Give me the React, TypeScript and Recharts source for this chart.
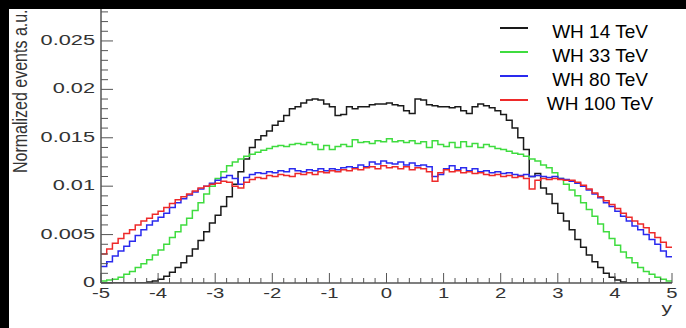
import React from 'react';
import { LineChart, Line, XAxis, YAxis, Legend, Label } from 'recharts';

// bin low edges: -5.0 ... 4.9 (width 0.1)
const binLow: number[] = Array.from({ length: 100 }, (_, i) => Math.round((-5 + i * 0.1) * 10) / 10);

const wh14 = [
  0, 0, 0, 0, 0, 0, 0, 0, 0.0001, 0.0002,
  0.0004, 0.0007, 0.0011, 0.0016, 0.0021, 0.0028, 0.0035, 0.0044, 0.0053, 0.0062,
  0.0070, 0.0079, 0.0089, 0.0102, 0.0115, 0.0128, 0.0140, 0.0148, 0.0152, 0.0157,
  0.0163, 0.0167, 0.0173, 0.0180, 0.0182, 0.0186, 0.0189, 0.0190, 0.0189, 0.0185,
  0.0182, 0.0173, 0.0174, 0.0182, 0.0180, 0.0182, 0.0182, 0.0184, 0.0185, 0.0185,
  0.0186, 0.0184, 0.0183, 0.0178, 0.0175, 0.0190, 0.0189, 0.0184, 0.0183, 0.0182,
  0.0182, 0.0181, 0.0182, 0.0178, 0.0175, 0.0182, 0.0185, 0.0183, 0.0181, 0.0178,
  0.0174, 0.0168, 0.0160, 0.0150, 0.0138, 0.0110, 0.0113, 0.0098, 0.0092, 0.0082,
  0.0072, 0.0064, 0.0055, 0.0045, 0.0037, 0.0029, 0.0022, 0.0016, 0.0010, 0.0006,
  0.0003, 0.0001, 0, 0, 0, 0, 0, 0, 0, 0,
];

const wh33 = [
  0.0002, 0.0003, 0.0004, 0.0006, 0.0009, 0.0012, 0.0016, 0.0020, 0.0024, 0.0029,
  0.0034, 0.0040, 0.0047, 0.0053, 0.0060, 0.0067, 0.0075, 0.0083, 0.0092, 0.0100,
  0.0108, 0.0115, 0.0121, 0.0125, 0.0128, 0.0131, 0.0133, 0.0135, 0.0137, 0.0139,
  0.0141, 0.0142, 0.0141, 0.0143, 0.0144, 0.0143, 0.0145, 0.0143, 0.0138, 0.0142,
  0.0138, 0.0141, 0.0143, 0.0141, 0.0148, 0.0145, 0.0146, 0.0144, 0.0147, 0.0146,
  0.0149, 0.0146, 0.0147, 0.0145, 0.0147, 0.0144, 0.0146, 0.0140, 0.0147, 0.0143,
  0.0141, 0.0145, 0.0140, 0.0146, 0.0141, 0.0144, 0.0140, 0.0143, 0.0141, 0.0139,
  0.0138, 0.0136, 0.0134, 0.0133, 0.0131, 0.0128, 0.0126, 0.0122, 0.0119, 0.0114,
  0.0108, 0.0102, 0.0096, 0.0090, 0.0083, 0.0076, 0.0069, 0.0061, 0.0053, 0.0046,
  0.0039, 0.0032, 0.0026, 0.0021, 0.0016, 0.0012, 0.0009, 0.0006, 0.0004, 0.0002,
];

const wh80 = [
  0.0017, 0.0022, 0.0028, 0.0033, 0.0038, 0.0043, 0.0049, 0.0055, 0.0060, 0.0064,
  0.0068, 0.0072, 0.0078, 0.0083, 0.0087, 0.0091, 0.0094, 0.0097, 0.0100, 0.0103,
  0.0106, 0.0109, 0.0111, 0.0108, 0.0102, 0.0109, 0.0112, 0.0114, 0.0113, 0.0115,
  0.0114, 0.0116, 0.0115, 0.0118, 0.0116, 0.0115, 0.0117, 0.0116, 0.0118, 0.0116,
  0.0118, 0.0117, 0.0119, 0.0120, 0.0119, 0.0122, 0.0120, 0.0125, 0.0123, 0.0126,
  0.0124, 0.0123, 0.0125, 0.0122, 0.0124, 0.0121, 0.0122, 0.0120, 0.0110, 0.0112,
  0.0118, 0.0121, 0.0117, 0.0119, 0.0116, 0.0118, 0.0115, 0.0116, 0.0114, 0.0115,
  0.0113, 0.0114, 0.0112, 0.0111, 0.0112, 0.0110, 0.0111, 0.0110, 0.0109, 0.0110,
  0.0108, 0.0107, 0.0105, 0.0103, 0.0100, 0.0096, 0.0092, 0.0088, 0.0083, 0.0079,
  0.0074, 0.0069, 0.0064, 0.0059, 0.0055, 0.0050, 0.0045, 0.0040, 0.0033, 0.0027,
];

const wh100 = [
  0.0030, 0.0035, 0.0041, 0.0046, 0.0051, 0.0055, 0.0060, 0.0064, 0.0067, 0.0071,
  0.0074, 0.0078, 0.0082, 0.0086, 0.0089, 0.0092, 0.0095, 0.0098, 0.0100, 0.0102,
  0.0103, 0.0105, 0.0104, 0.0100, 0.0098, 0.0104, 0.0107, 0.0109, 0.0108, 0.0111,
  0.0110, 0.0112, 0.0111, 0.0110, 0.0113, 0.0112, 0.0114, 0.0112, 0.0115, 0.0114,
  0.0116, 0.0115, 0.0117, 0.0116, 0.0118, 0.0117, 0.0119, 0.0120, 0.0118, 0.0121,
  0.0119, 0.0120, 0.0118, 0.0120, 0.0117, 0.0119, 0.0118, 0.0115, 0.0105, 0.0114,
  0.0117, 0.0115, 0.0116, 0.0114, 0.0115, 0.0113, 0.0114, 0.0112, 0.0111, 0.0112,
  0.0110, 0.0111, 0.0109, 0.0110, 0.0108, 0.0097, 0.0106, 0.0108, 0.0107, 0.0108,
  0.0107, 0.0106, 0.0106, 0.0104, 0.0101, 0.0097, 0.0093, 0.0089, 0.0085, 0.0081,
  0.0077, 0.0072, 0.0068, 0.0064, 0.0061, 0.0057, 0.0052, 0.0047, 0.0042, 0.0037,
];

const seriesNames = ['WH 14 TeV', 'WH 33 TeV', 'WH 80 TeV', 'WH 100 TeV'];
const seriesColors = ['#1a1a1a', '#3fdc3f', '#2a2aee', '#ee2a2a'];

// ticks: majors every 1 (x) / 0.005 (y), minors every 0.2 / 0.001
const xTicks = Array.from({ length: 51 }, (_, i) => Math.round((-5 + i * 0.2) * 10) / 10);
const yTicks = Array.from({ length: 29 }, (_, i) => i / 1000);

// last edge repeats the last bin so the step reaches x = 5
const rows = [...binLow, 5].map((x, i) => {
  const k = Math.min(i, 99);
  return { x, wh14: wh14[k], wh33: wh33[k], wh80: wh80[k], wh100: wh100[k] };
});

const AXIS = '#555';
const FONT = '"Liberation Sans", Arial, sans-serif';

const isMajorX = (v: number) => Math.abs(v - Math.round(v)) < 1e-6;
const isMajorY = (v: number) => Math.abs(v / 0.005 - Math.round(v / 0.005)) < 1e-6;

const XTick = (p: any) => {
  const v = p.payload.value;
  const major = isMajorX(v);
  const dir = p.up ? -1 : 1;
  return (
    <g>
      <line x1={p.x} x2={p.x} y1={p.y} y2={p.y + dir * (major ? 10 : 5)} stroke={AXIS} strokeWidth={1} />
      {p.labels && major && (
        <text transform={`translate(${p.x},${p.y + 15}) scale(1.45,1)`} textAnchor="middle" fontSize={14} fontFamily={FONT} fill="#333">
          {v}
        </text>
      )}
    </g>
  );
};

const YTick = (p: any) => {
  const v = p.payload.value;
  const major = isMajorY(v);
  const dir = p.left ? -1 : 1;
  return (
    <g>
      <line x1={p.x} x2={p.x + dir * (major ? 12 : 7)} y1={p.y} y2={p.y} stroke={AXIS} strokeWidth={1} />
      {p.labels && major && (
        <text transform={`translate(${p.x - 6},${p.y + 4}) scale(1.45,1)`} textAnchor="end" fontSize={15} fontFamily={FONT} fill="#333">
          {String(Number(v.toFixed(3)))}
        </text>
      )}
    </g>
  );
};

const LegendBox = (props: any) => {
  const items = [...(props.payload || [])].sort(
    (a: any, b: any) => seriesNames.indexOf(a.value) - seriesNames.indexOf(b.value)
  );
  return (
    <div style={{ fontFamily: FONT, fontSize: 19, color: '#000' }}>
      {items.map((item: any) => (
        <div key={item.value} style={{ display: 'flex', alignItems: 'flex-start', height: 24 }}>
          <span style={{ width: 28, height: 0, borderTop: `2px solid ${item.color}`, marginTop: 6 }} />
          <span style={{ width: 112, marginLeft: 16, textAlign: 'center', lineHeight: '22px' }}>{item.value}</span>
        </div>
      ))}
    </div>
  );
};

const App: React.FC = () => {
  const keys = ['wh14', 'wh33', 'wh80', 'wh100'];
  return (
    <div style={{ position: 'absolute', left: 0, top: 0, width: 686, height: 328, background: '#fff', overflow: 'hidden' }}>
      <LineChart width={686} height={328} data={rows} margin={{ top: 9, right: 14, bottom: 0, left: 0 }}>
        <XAxis
          dataKey="x"
          type="number"
          domain={[-5, 5]}
          ticks={xTicks}
          interval={0}
          height={45}
          tickSize={0}
          tickMargin={0}
          tickLine={false}
          axisLine={{ stroke: AXIS, strokeWidth: 1.5 }}
          tick={<XTick up labels />}
        >
          <Label
            content={() => (
              <text transform="translate(672,313) scale(1.5,1)" textAnchor="end" fontSize={14} fontFamily={FONT} fill="#333">
                y
              </text>
            )}
          />
        </XAxis>
        <XAxis
          xAxisId="top"
          orientation="top"
          dataKey="x"
          type="number"
          domain={[-5, 5]}
          ticks={xTicks}
          interval={0}
          height={0}
          tickSize={0}
          tickMargin={0}
          tickLine={false}
          axisLine={{ stroke: AXIS, strokeWidth: 1.5 }}
          tick={<XTick />}
        />
        <YAxis
          type="number"
          domain={[0, 0.0283]}
          allowDataOverflow
          ticks={yTicks}
          interval={0}
          width={101}
          tickSize={0}
          tickMargin={0}
          tickLine={false}
          axisLine={{ stroke: AXIS, strokeWidth: 1.5 }}
          tick={<YTick labels />}
        >
          <Label
            content={() => (
              <text transform="translate(27,173) rotate(-90) scale(1,1.3)" fontSize={16} fontFamily={FONT} fill="#333">
                Normalized events a.u.
              </text>
            )}
          />
        </YAxis>
        <YAxis
          yAxisId="right"
          orientation="right"
          type="number"
          domain={[0, 0.0283]}
          allowDataOverflow
          ticks={yTicks}
          interval={0}
          width={0}
          tickSize={0}
          tickMargin={0}
          tickLine={false}
          axisLine={{ stroke: AXIS, strokeWidth: 1.5 }}
          tick={<YTick left />}
        />
        {keys.map((k, i) => (
          <Line
            key={k}
            dataKey={k}
            name={seriesNames[i]}
            type="stepAfter"
            stroke={seriesColors[i]}
            strokeWidth={1.5}
            dot={false}
            isAnimationActive={false}
          />
        ))}
        <Legend
          layout="vertical"
          align="center"
          verticalAlign="middle"
          itemSorter={null}
          content={<LegendBox />}
          wrapperStyle={{ left: 500, top: 21, width: 'auto', height: 'auto' }}
        />
      </LineChart>
      <div style={{ position: 'absolute', left: 0, top: 0, width: 686, height: 9, background: '#000' }} />
      <div style={{ position: 'absolute', left: 0, top: 0, width: 9, height: 328, background: '#000' }} />
    </div>
  );
};

export default App;
